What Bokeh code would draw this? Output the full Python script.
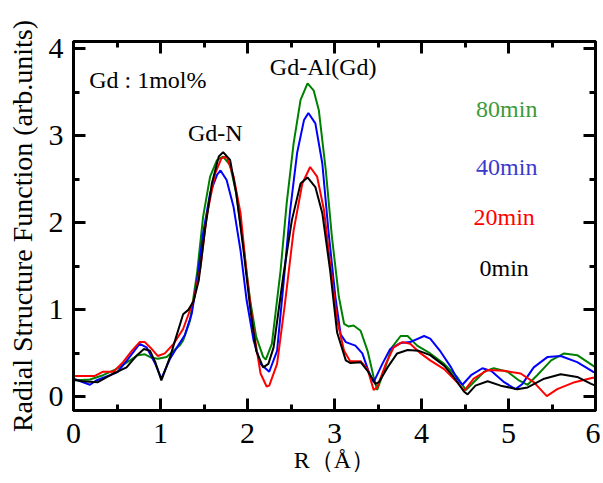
from bokeh.plotting import figure
from bokeh.models import Range1d, LinearAxis, Label, SingleIntervalTicker
from bokeh.embed import file_html
from bokeh.resources import INLINE

# ---- data ----
bk_x = [0.00, 0.10, 0.28, 0.46, 0.61, 0.73, 0.81, 0.88, 0.94, 1.01, 1.11, 1.18, 1.26, 1.32, 1.38, 1.44, 1.51, 1.59, 1.67, 1.72,
        1.80, 1.87, 1.95, 2.03, 2.10, 2.18, 2.24, 2.30, 2.41, 2.51, 2.61, 2.69, 2.78, 2.86, 2.95, 3.03, 3.13, 3.18, 3.30, 3.38,
        3.47, 3.51, 3.61, 3.72, 3.84, 3.97, 4.10, 4.26, 4.37, 4.49, 4.53, 4.62, 4.76, 4.91, 5.10, 5.22, 5.41, 5.60, 5.79, 5.95, 6.00]
bk_y = [0.20, 0.18, 0.17, 0.27, 0.34, 0.48, 0.55, 0.53, 0.40, 0.19, 0.46, 0.69, 0.95, 1.00, 1.10, 1.34, 1.91, 2.45, 2.76, 2.81,
        2.72, 2.34, 1.72, 1.03, 0.53, 0.34, 0.38, 0.57, 1.38, 2.03, 2.45, 2.52, 2.41, 2.11, 1.45, 0.74, 0.42, 0.39, 0.40, 0.30,
        0.15, 0.17, 0.34, 0.50, 0.54, 0.53, 0.48, 0.36, 0.23, 0.06, 0.03, 0.13, 0.18, 0.13, 0.09, 0.11, 0.21, 0.26, 0.23, 0.15, 0.13]

rd_x = [0.00, 0.24, 0.34, 0.46, 0.57, 0.67, 0.76, 0.82, 0.90, 0.97, 1.05, 1.15, 1.26, 1.38, 1.46, 1.53, 1.63, 1.70, 1.76, 1.84,
        1.92, 1.99, 2.07, 2.15, 2.22, 2.25, 2.34, 2.43, 2.53, 2.63, 2.72, 2.80, 2.88, 2.95, 3.03, 3.11, 3.18, 3.30, 3.38, 3.45,
        3.49, 3.59, 3.68, 3.78, 3.87, 3.99, 4.10, 4.26, 4.41, 4.49, 4.60, 4.76, 4.95, 5.14, 5.29, 5.44, 5.56, 5.76, 5.97, 6.00]
rd_y = [0.24, 0.24, 0.29, 0.29, 0.40, 0.53, 0.63, 0.63, 0.55, 0.47, 0.50, 0.61, 0.78, 1.11, 1.49, 2.07, 2.57, 2.74, 2.76, 2.53,
        2.11, 1.42, 0.76, 0.27, 0.12, 0.13, 0.38, 1.07, 1.91, 2.45, 2.64, 2.53, 2.14, 1.53, 0.88, 0.53, 0.41, 0.41, 0.32, 0.08,
        0.11, 0.38, 0.57, 0.63, 0.61, 0.50, 0.42, 0.32, 0.17, 0.07, 0.21, 0.31, 0.30, 0.27, 0.17, 0.01, 0.09, 0.17, 0.22, 0.22]

bl_x = [0.00, 0.19, 0.26, 0.42, 0.51, 0.63, 0.76, 0.84, 0.94, 1.01, 1.11, 1.19, 1.28, 1.36, 1.42, 1.49, 1.57, 1.65, 1.69, 1.76,
        1.84, 1.92, 1.99, 2.07, 2.15, 2.25, 2.34, 2.41, 2.49, 2.57, 2.65, 2.70, 2.78, 2.86, 2.93, 3.01, 3.07, 3.13, 3.24, 3.32,
        3.39, 3.45, 3.55, 3.64, 3.76, 3.87, 4.03, 4.10, 4.22, 4.34, 4.41, 4.47, 4.57, 4.70, 4.80, 4.95, 5.08, 5.16, 5.29, 5.45,
        5.60, 5.79, 5.97, 6.00]
bl_y = [0.21, 0.14, 0.19, 0.25, 0.29, 0.44, 0.61, 0.57, 0.38, 0.21, 0.44, 0.57, 0.71, 0.96, 1.34, 1.88, 2.34, 2.55, 2.60, 2.49,
        2.18, 1.68, 1.11, 0.65, 0.38, 0.29, 0.53, 1.26, 2.14, 2.80, 3.18, 3.26, 3.14, 2.68, 1.91, 1.15, 0.72, 0.63, 0.59, 0.50,
        0.30, 0.17, 0.38, 0.55, 0.62, 0.63, 0.70, 0.67, 0.52, 0.34, 0.21, 0.14, 0.25, 0.33, 0.30, 0.17, 0.09, 0.15, 0.34, 0.46,
        0.47, 0.40, 0.29, 0.28]

gr_x = [0.00, 0.19, 0.34, 0.49, 0.65, 0.74, 0.82, 0.90, 0.97, 1.07, 1.15, 1.22, 1.26, 1.34, 1.42, 1.49, 1.57, 1.65, 1.72, 1.80,
        1.87, 1.95, 2.03, 2.10, 2.18, 2.21, 2.28, 2.38, 2.45, 2.53, 2.61, 2.69, 2.76, 2.82, 2.90, 2.97, 3.05, 3.11, 3.16, 3.22,
        3.30, 3.38, 3.45, 3.49, 3.57, 3.66, 3.76, 3.84, 3.95, 4.10, 4.26, 4.41, 4.51, 4.60, 4.72, 4.83, 4.99, 5.12, 5.22, 5.33,
        5.49, 5.64, 5.79, 5.97, 6.00]
gr_y = [0.19, 0.20, 0.25, 0.32, 0.42, 0.48, 0.49, 0.45, 0.44, 0.46, 0.53, 0.59, 0.65, 0.88, 1.42, 2.07, 2.53, 2.72, 2.76, 2.66,
        2.34, 1.76, 1.11, 0.69, 0.46, 0.43, 0.61, 1.45, 2.22, 2.91, 3.41, 3.60, 3.52, 3.29, 2.60, 1.84, 1.15, 0.84, 0.81, 0.82,
        0.76, 0.53, 0.23, 0.08, 0.30, 0.57, 0.70, 0.70, 0.59, 0.50, 0.38, 0.23, 0.08, 0.17, 0.29, 0.33, 0.29, 0.19, 0.14, 0.25,
        0.42, 0.50, 0.48, 0.36, 0.34]

series_names = ["80min", "40min", "20min", "0min"]

FONT = "Liberation Serif"

p = figure(width=600, height=483, output_backend="svg", toolbar_location=None,
           x_range=Range1d(0, 6), y_range=Range1d(-0.155, 4.08),
           min_border_left=73, min_border_right=5, min_border_top=41, min_border_bottom=73)
p.xgrid.visible = False
p.ygrid.visible = False
p.background_fill_color = "white"
p.border_fill_color = "white"
p.outline_line_color = "black"
p.outline_line_width = 3

line_w = 2
p.line(gr_x, gr_y, line_color="#008000", line_width=line_w)
p.line(bl_x, bl_y, line_color="#0000ff", line_width=line_w)
p.line(rd_x, rd_y, line_color="#ff0000", line_width=line_w)
p.line(bk_x, bk_y, line_color="#000000", line_width=line_w)


def style_axis(ax, show_labels):
    ax.ticker = SingleIntervalTicker(interval=1, num_minor_ticks=2)
    ax.axis_line_width = 3
    ax.axis_line_color = "black"
    ax.major_tick_line_width = 3
    ax.minor_tick_line_width = 3
    ax.major_tick_line_color = "black"
    ax.minor_tick_line_color = "black"
    ax.major_tick_in = 12
    ax.major_tick_out = 0
    ax.minor_tick_in = 6
    ax.minor_tick_out = 0
    if show_labels:
        ax.major_label_text_font = FONT
        ax.major_label_text_font_size = "30px"
        ax.major_label_text_color = "black"
    else:
        ax.major_label_text_font_size = "1px"
        ax.major_label_text_color = None
        ax.major_label_standoff = 0


xa = p.xaxis[0]
ya = p.yaxis[0]
style_axis(xa, True)
style_axis(ya, True)
xa.major_label_standoff = 13
ya.major_label_standoff = 10
xa.axis_label = "R（Å）"
xa.axis_label_text_font = FONT
xa.axis_label_text_font_style = "normal"
xa.axis_label_text_font_size = "24px"
xa.axis_label_text_color = "black"
xa.axis_label_standoff = 1
ya.axis_label = "Radial Structure Function (arb.units)"
ya.axis_label_text_font = FONT
ya.axis_label_text_font_style = "normal"
ya.axis_label_text_font_size = "28px"
ya.axis_label_text_color = "black"
ya.axis_label_standoff = 8

top = LinearAxis()
right = LinearAxis()
style_axis(top, False)
style_axis(right, False)
p.add_layout(top, "above")
p.add_layout(right, "right")

ann = dict(text_font=FONT, text_font_size="24px", text_baseline="middle")
p.add_layout(Label(x=0.18, y=3.64, text="Gd : 1mol%", text_align="left", text_color="black", **ann))
p.add_layout(Label(x=1.63, y=3.03, text="Gd-N", text_align="center", text_color="black", **ann))
p.add_layout(Label(x=2.87, y=3.79, text="Gd-Al(Gd)", text_align="center", text_color="black", **ann))
label_colors = ["#3a9a3a", "#3a3acc", "#ff0000", "#000000"]
label_y = [3.31, 2.64, 2.07, 1.48]
label_x = [4.98, 4.98, 4.95, 4.95]
for name, c, lx, ly in zip(series_names, label_colors, label_x, label_y):
    p.add_layout(Label(x=lx, y=ly, text=name, text_align="center", text_color=c, **ann))

open("out.html", "w").write(file_html(p, INLINE))
